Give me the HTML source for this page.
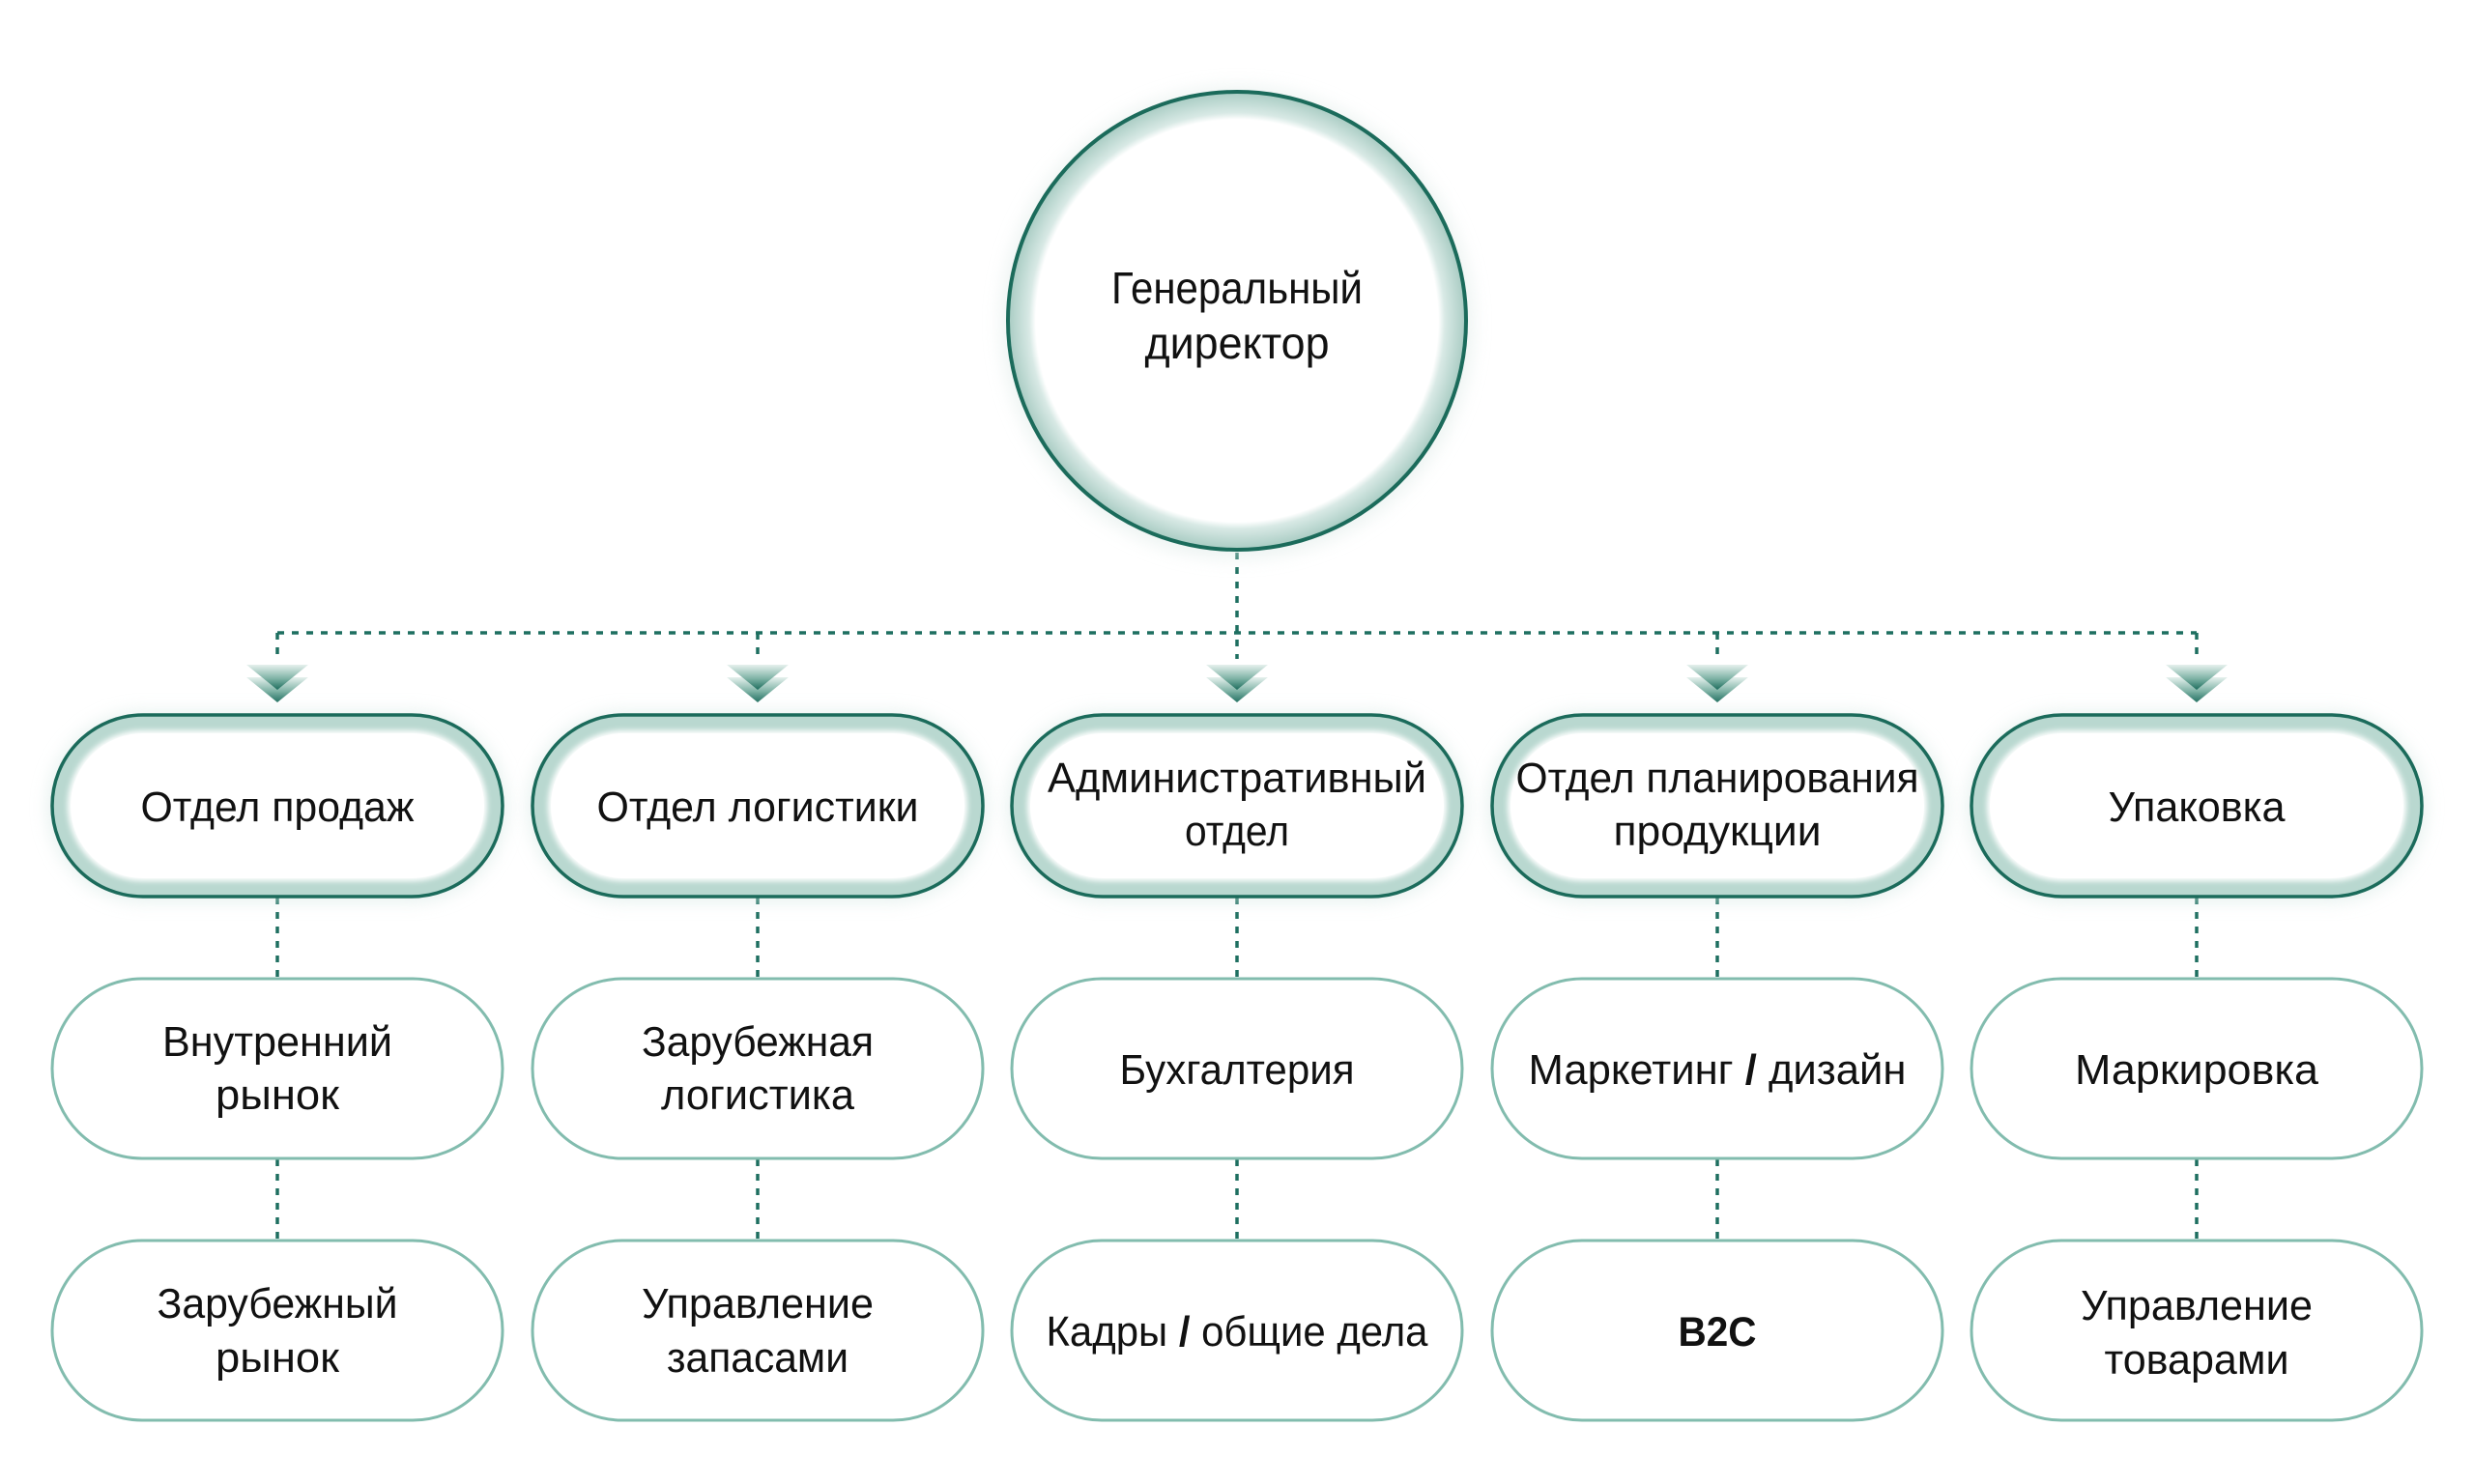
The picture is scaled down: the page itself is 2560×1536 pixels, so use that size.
<!DOCTYPE html>
<html>
<head>
<meta charset="utf-8">
<style>
  html, body { margin: 0; padding: 0; background: #ffffff; }
  svg { display: block; }
  text { font-family: "Liberation Sans", "DejaVu Sans", sans-serif; fill: #111111; }
</style>
</head>
<body>
<svg width="2560" height="1536" viewBox="0 0 2560 1536" xmlns="http://www.w3.org/2000/svg">
  <defs>
    <linearGradient id="ag" x1="0" y1="0" x2="0" y2="1">
      <stop offset="0" stop-color="#e6f1ee"/>
      <stop offset="0.55" stop-color="#7fb3a6"/>
      <stop offset="1" stop-color="#1c6c5c"/>
    </linearGradient>
    <radialGradient id="cg" cx="1280" cy="332" r="238" gradientUnits="userSpaceOnUse">
      <stop offset="0.875" stop-color="#ffffff"/>
      <stop offset="0.905" stop-color="#d8e9e5"/>
      <stop offset="1" stop-color="#a6cac1"/>
    </radialGradient>
    <filter id="glow" x="-20%" y="-40%" width="140%" height="180%">
      <feGaussianBlur stdDeviation="9"/>
    </filter>
    <filter id="soft" x="-10%" y="-20%" width="120%" height="140%">
      <feGaussianBlur stdDeviation="3"/>
    </filter>
  </defs>

  <!-- ===== Connectors ===== -->
  <g stroke="#1e6f60" stroke-width="3.5" stroke-dasharray="7 8" fill="none">
    <line x1="1280" y1="572" x2="1280" y2="682"/>
    <line x1="287" y1="655" x2="2273" y2="655"/>
    <line x1="287" y1="655" x2="287" y2="682"/>
    <line x1="784" y1="655" x2="784" y2="682"/>
    <line x1="1777" y1="655" x2="1777" y2="682"/>
    <line x1="2273" y1="655" x2="2273" y2="682"/>
    <line x1="287" y1="929" x2="287" y2="1012"/>
    <line x1="784" y1="929" x2="784" y2="1012"/>
    <line x1="1280" y1="929" x2="1280" y2="1012"/>
    <line x1="1777" y1="929" x2="1777" y2="1012"/>
    <line x1="2273" y1="929" x2="2273" y2="1012"/>
    <line x1="287" y1="1200" x2="287" y2="1284"/>
    <line x1="784" y1="1200" x2="784" y2="1284"/>
    <line x1="1280" y1="1200" x2="1280" y2="1284"/>
    <line x1="1777" y1="1200" x2="1777" y2="1284"/>
    <line x1="2273" y1="1200" x2="2273" y2="1284"/>
  </g>

  <!-- ===== Director circle ===== -->
  <circle cx="1280" cy="334" r="244" fill="#dde9e6" opacity="0.55" filter="url(#glow)"/>
  <circle cx="1280" cy="332" r="237" fill="url(#cg)" stroke="#1b6b5b" stroke-width="4"/>
  <text x="1280" y="314" font-size="46" text-anchor="middle" textLength="260" lengthAdjust="spacingAndGlyphs">Генеральный</text>
  <text x="1280" y="371" font-size="46" text-anchor="middle" textLength="191" lengthAdjust="spacingAndGlyphs">директор</text>

  <!-- ===== Arrows ===== -->
  <g>
    <polygon points="255,701 319,701 287,727" fill="url(#ag)"/>
    <polygon points="255,688 319,688 287,714" fill="url(#ag)"/>
    <polygon points="752,701 816,701 784,727" fill="url(#ag)"/>
    <polygon points="752,688 816,688 784,714" fill="url(#ag)"/>
    <polygon points="1248,701 1312,701 1280,727" fill="url(#ag)"/>
    <polygon points="1248,688 1312,688 1280,714" fill="url(#ag)"/>
    <polygon points="1745,701 1809,701 1777,727" fill="url(#ag)"/>
    <polygon points="1745,688 1809,688 1777,714" fill="url(#ag)"/>
    <polygon points="2241,701 2305,701 2273,727" fill="url(#ag)"/>
    <polygon points="2241,688 2305,688 2273,714" fill="url(#ag)"/>
  </g>

  <!-- ===== Row 1 pills (department) ===== -->
  <g>
    <rect x="50" y="737" width="474" height="196" rx="98" fill="#d6e7e3" opacity="0.6" filter="url(#glow)"/>
    <rect x="547" y="737" width="474" height="196" rx="98" fill="#d6e7e3" opacity="0.6" filter="url(#glow)"/>
    <rect x="1043" y="737" width="474" height="196" rx="98" fill="#d6e7e3" opacity="0.6" filter="url(#glow)"/>
    <rect x="1540" y="737" width="474" height="196" rx="98" fill="#d6e7e3" opacity="0.6" filter="url(#glow)"/>
    <rect x="2036" y="737" width="474" height="196" rx="98" fill="#d6e7e3" opacity="0.6" filter="url(#glow)"/>

    <rect x="54" y="740" width="466" height="188" rx="94" fill="#b9d8d0" stroke="#1b6b5b" stroke-width="3.5"/>
    <rect x="551" y="740" width="466" height="188" rx="94" fill="#b9d8d0" stroke="#1b6b5b" stroke-width="3.5"/>
    <rect x="1047" y="740" width="466" height="188" rx="94" fill="#b9d8d0" stroke="#1b6b5b" stroke-width="3.5"/>
    <rect x="1544" y="740" width="466" height="188" rx="94" fill="#b9d8d0" stroke="#1b6b5b" stroke-width="3.5"/>
    <rect x="2040" y="740" width="466" height="188" rx="94" fill="#b9d8d0" stroke="#1b6b5b" stroke-width="3.5"/>

    <rect x="70" y="756" width="434" height="156" rx="78" fill="#ffffff" filter="url(#soft)"/>
    <rect x="567" y="756" width="434" height="156" rx="78" fill="#ffffff" filter="url(#soft)"/>
    <rect x="1063" y="756" width="434" height="156" rx="78" fill="#ffffff" filter="url(#soft)"/>
    <rect x="1560" y="756" width="434" height="156" rx="78" fill="#ffffff" filter="url(#soft)"/>
    <rect x="2056" y="756" width="434" height="156" rx="78" fill="#ffffff" filter="url(#soft)"/>
    <rect x="73" y="759" width="428" height="150" rx="75" fill="#ffffff"/>
    <rect x="570" y="759" width="428" height="150" rx="75" fill="#ffffff"/>
    <rect x="1066" y="759" width="428" height="150" rx="75" fill="#ffffff"/>
    <rect x="1563" y="759" width="428" height="150" rx="75" fill="#ffffff"/>
    <rect x="2059" y="759" width="428" height="150" rx="75" fill="#ffffff"/>
  </g>

  <!-- Row 1 text -->
  <text x="287" y="850" font-size="44" text-anchor="middle" textLength="283" lengthAdjust="spacingAndGlyphs">Отдел продаж</text>
  <text x="784" y="850" font-size="44" text-anchor="middle" textLength="333" lengthAdjust="spacingAndGlyphs">Отдел логистики</text>
  <text x="1280" y="820" font-size="44" text-anchor="middle" textLength="392" lengthAdjust="spacingAndGlyphs">Административный</text>
  <text x="1280" y="875" font-size="44" text-anchor="middle" textLength="108" lengthAdjust="spacingAndGlyphs">отдел</text>
  <text x="1777" y="820" font-size="44" text-anchor="middle" textLength="417" lengthAdjust="spacingAndGlyphs">Отдел планирования</text>
  <text x="1777" y="875" font-size="44" text-anchor="middle" textLength="215" lengthAdjust="spacingAndGlyphs">продукции</text>
  <text x="2273" y="850" font-size="44" text-anchor="middle" textLength="183" lengthAdjust="spacingAndGlyphs">Упаковка</text>

  <!-- ===== Row 2 pills ===== -->
  <g fill="#ffffff" stroke="#82bcae" stroke-width="3">
    <rect x="54" y="1013" width="466" height="186" rx="93"/>
    <rect x="551" y="1013" width="466" height="186" rx="93"/>
    <rect x="1047" y="1013" width="466" height="186" rx="93"/>
    <rect x="1544" y="1013" width="466" height="186" rx="93"/>
    <rect x="2040" y="1013" width="466" height="186" rx="93"/>
  </g>
  <text x="287" y="1093" font-size="44" text-anchor="middle" textLength="238" lengthAdjust="spacingAndGlyphs">Внутренний</text>
  <text x="287" y="1148" font-size="44" text-anchor="middle" textLength="128" lengthAdjust="spacingAndGlyphs">рынок</text>
  <text x="784" y="1093" font-size="44" text-anchor="middle" textLength="240" lengthAdjust="spacingAndGlyphs">Зарубежная</text>
  <text x="784" y="1148" font-size="44" text-anchor="middle" textLength="200" lengthAdjust="spacingAndGlyphs">логистика</text>
  <text x="1280" y="1122" font-size="44" text-anchor="middle" textLength="243" lengthAdjust="spacingAndGlyphs">Бухгалтерия</text>
  <text x="1777" y="1122" font-size="44" text-anchor="middle" textLength="391" lengthAdjust="spacingAndGlyphs">Маркетинг <tspan font-weight="bold">/</tspan> дизайн</text>
  <text x="2273" y="1122" font-size="44" text-anchor="middle" textLength="252" lengthAdjust="spacingAndGlyphs">Маркировка</text>

  <!-- ===== Row 3 pills ===== -->
  <g fill="#ffffff" stroke="#82bcae" stroke-width="3">
    <rect x="54" y="1284" width="466" height="186" rx="93"/>
    <rect x="551" y="1284" width="466" height="186" rx="93"/>
    <rect x="1047" y="1284" width="466" height="186" rx="93"/>
    <rect x="1544" y="1284" width="466" height="186" rx="93"/>
    <rect x="2040" y="1284" width="466" height="186" rx="93"/>
  </g>
  <text x="287" y="1364" font-size="44" text-anchor="middle" textLength="249" lengthAdjust="spacingAndGlyphs">Зарубежный</text>
  <text x="287" y="1420" font-size="44" text-anchor="middle" textLength="128" lengthAdjust="spacingAndGlyphs">рынок</text>
  <text x="784" y="1364" font-size="44" text-anchor="middle" textLength="240" lengthAdjust="spacingAndGlyphs">Управление</text>
  <text x="784" y="1420" font-size="44" text-anchor="middle" textLength="188" lengthAdjust="spacingAndGlyphs">запасами</text>
  <text x="1280" y="1393" font-size="44" text-anchor="middle" textLength="395" lengthAdjust="spacingAndGlyphs">Кадры <tspan font-weight="bold">/</tspan> общие дела</text>
  <text x="1777" y="1393" font-size="43" font-weight="bold" text-anchor="middle" textLength="81" lengthAdjust="spacingAndGlyphs">B2C</text>
  <text x="2273" y="1366" font-size="44" text-anchor="middle" textLength="240" lengthAdjust="spacingAndGlyphs">Управление</text>
  <text x="2273" y="1422" font-size="44" text-anchor="middle" textLength="191" lengthAdjust="spacingAndGlyphs">товарами</text>
</svg>
</body>
</html>
